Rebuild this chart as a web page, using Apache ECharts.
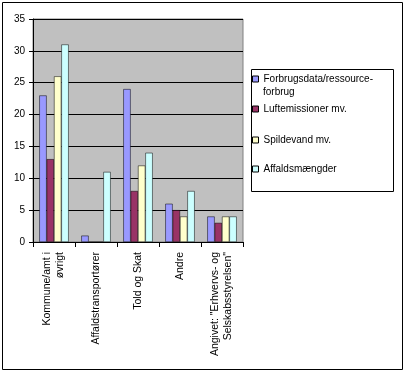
<!DOCTYPE html>
<html><head><meta charset="utf-8">
<script src="https://cdn.jsdelivr.net/npm/echarts@6/dist/echarts.min.js"></script>
<style>html,body{margin:0;padding:0;background:#fff}#c{width:407px;height:374px}</style>
</head><body><div id="c"></div>
<script>
const categories = ['Kommune/amt i\nøvrigt', 'Affaldstransportører', 'Told og Skat', 'Andre', 'Angivet: "Erhvervs- og\nSelskabsstyrelsen"'];
const seriesNames = ['Forbrugsdata/ressource-\nforbrug', 'Luftemissioner mv.', 'Spildevand mv.', 'Affaldsmængder'];
const forbrug = [23, 1, 24, 6, 4];
const luft = [13, 0, 8, 5, 3];
const spildevand = [26, 0, 12, 4, 4];
const affald = [31, 11, 14, 8, 4];
const yTicks = [0, 5, 10, 15, 20, 25, 30, 35];
const colors = ['#9999FF', '#993366', '#FFFFCC', '#CCFFFF'];
const values = [forbrug, luft, spildevand, affald];

const chart = echarts.init(document.getElementById('c'));
const font = 'Liberation Sans, Arial, sans-serif';
const legendTops = [73, 103, 134, 163];
chart.setOption({
  animation: false,
  grid: { left: 33, right: 164, top: 19, bottom: 132, backgroundColor: '#C0C0C0', show: true, borderColor: '#808080', borderWidth: 1 },
  graphic: [
    { type: 'rect', shape: { x: 2.5, y: 2.5, width: 400, height: 367 }, style: { fill: 'none', stroke: '#000', lineWidth: 1 }, silent: true },
    { type: 'rect', shape: { x: 251.5, y: 69.5, width: 142, height: 122 }, style: { fill: 'none', stroke: '#000', lineWidth: 1 }, silent: true },
    { type: 'text', left: 263, top: 86, silent: true,
      style: { text: seriesNames[0].split('\n')[1], fontFamily: font, fontSize: 10, fill: '#000', lineHeight: 12 } }
  ],
  legend: seriesNames.map((n, i) => ({
    data: [n], left: 252, top: legendTops[i], orient: 'vertical', itemWidth: 6, itemHeight: 6, padding: 0,
    icon: 'rect', selectedMode: false,
    formatter: name => name.split('\n')[0],
    textStyle: { fontFamily: font, fontSize: 10, color: '#000', lineHeight: 12 },
    itemStyle: { borderColor: '#000', borderWidth: 1 },
    align: 'left'
  })),
  xAxis: {
    type: 'category', data: categories,
    axisLine: { lineStyle: { color: '#000' } },
    axisTick: { show: true, length: 5, lineStyle: { color: '#000' } },
    axisLabel: { rotate: 90, interval: 0, fontFamily: font, fontSize: 10.5, color: '#000', lineHeight: 13, margin: 10 }
  },
  yAxis: {
    type: 'value', min: 0, max: 35, interval: 5,
    axisLine: { show: true, lineStyle: { color: '#000' } },
    axisTick: { show: true, length: 4, lineStyle: { color: '#000' } },
    axisLabel: { fontFamily: font, fontSize: 10, color: '#000', margin: 8, formatter: v => yTicks.includes(v) ? String(v) : '' },
    splitLine: { lineStyle: { color: '#000', width: 1 } }
  },
  series: seriesNames.map((n, i) => ({
    name: n, type: 'bar', data: values[i], barGap: '0%', barCategoryGap: '30%',
    itemStyle: { color: colors[i], borderColor: '#000', borderWidth: 0.5 }
  }))
});
</script></body></html>
